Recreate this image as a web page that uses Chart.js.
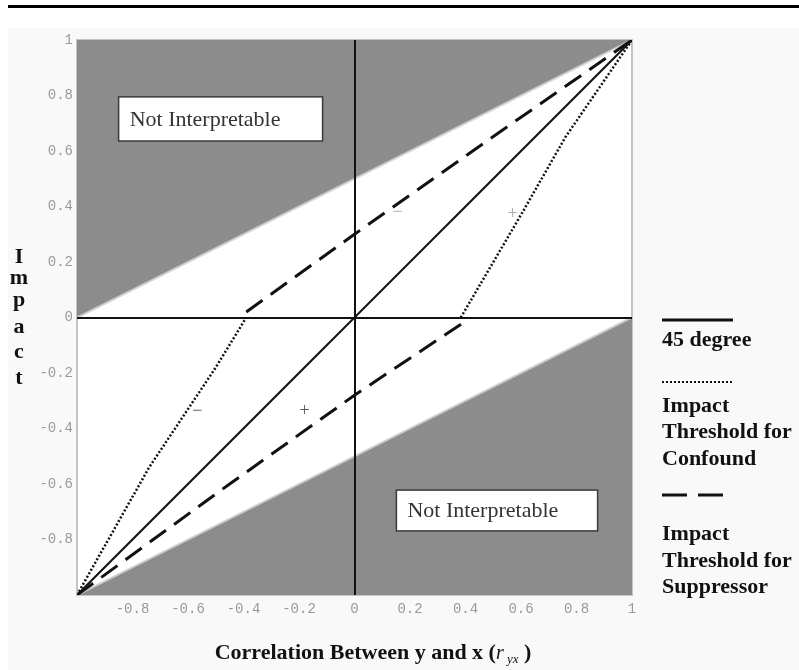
<!DOCTYPE html>
<html>
<head>
<meta charset="utf-8">
<script src="https://cdn.jsdelivr.net/npm/chart.js@4.4.0/dist/chart.umd.min.js"></script>
<style>
  body { margin: 0; background: #fff; }
  canvas { display: block; }
</style>
</head>
<body>
<canvas id="impact-chart" width="799" height="670"></canvas>
<script>
// === Data (correlation r_yx vs impact) ===
const diagX = [-1, 1];
const diagY = [-1, 1];

// Impact threshold for confound (dotted), two branches
const confoundLowX = [-1, -0.74, -0.5, -0.39];
const confoundLowY = [-1, -0.54, -0.18, 0];
const confoundHighX = [0.383, 0.6, 0.76, 1];
const confoundHighY = [0, 0.37, 0.65, 1];

// Impact threshold for suppressor (dashed), two branches
const suppressHighX = [-0.39, 0, 0.49, 1];
const suppressHighY = [0.02, 0.3, 0.645, 1];
const suppressLowX = [-1, -0.45, 0, 0.39];
const suppressLowY = [-1, -0.6, -0.28, -0.02];

// Boundaries of the "not interpretable" regions
const upperBoundX = [-1, 1];
const upperBoundY = [0, 1];
const lowerBoundX = [-1, 1];
const lowerBoundY = [-1, 0];

// Ticks
const xTickValues = [-0.8, -0.6, -0.4, -0.2, 0, 0.2, 0.4, 0.6, 0.8, 1];
const xTickLabels = ['-0.8', '-0.6', '-0.4', '-0.2', '0', '0.2', '0.4', '0.6', '0.8', '1'];
const yTickValues = [-0.8, -0.6, -0.4, -0.2, 0, 0.2, 0.4, 0.6, 0.8, 1];
const yTickLabels = ['-0.8', '-0.6', '-0.4', '-0.2', '0', '0.2', '0.4', '0.6', '0.8', '1'];

// Sign markers written on the plot
const signText = ['\u2212', '+', '\u2212', '+'];
const signX = [-0.566, -0.18, 0.155, 0.57];
const signY = [-0.337, -0.337, 0.38, 0.373];

const pts = (xs, ys) => xs.map((x, i) => ({ x, y: ys[i] }));

const SERIF = '"Liberation Serif", "DejaVu Serif", serif';

// drawing helpers for text / boxes / legend
const paperPlugin = {
    id: 'paper',
    beforeDraw(chart) {
        const { ctx, width, height, chartArea: a } = chart;
        ctx.save();
        ctx.fillStyle = '#ffffff';
        ctx.fillRect(0, 0, width, height);
        ctx.fillStyle = '#f9f9f9';
        ctx.fillRect(8, 28, width - 8, height - 28);
        ctx.fillStyle = '#ffffff';
        ctx.fillRect(a.left, a.top, a.right - a.left, a.bottom - a.top);
        ctx.strokeStyle = '#c4c4c4';
        ctx.lineWidth = 2;
        ctx.strokeRect(a.left, a.top, a.right - a.left, a.bottom - a.top);
        // rule across the top of the page
        ctx.fillStyle = '#000';
        ctx.fillRect(8, 5, width - 8, 3);
        ctx.restore();
    },
    afterDraw(chart) {
        const { ctx, scales: { x, y } } = chart;
        ctx.save();

        // "Not Interpretable" boxes
        const boxes = [
            { x0: -0.85, x1: -0.115, y0: 0.795, y1: 0.636 },
            { x0: 0.151, x1: 0.876, y0: -0.622, y1: -0.769 }
        ];
        boxes.forEach(b => {
            const l = x.getPixelForValue(b.x0), r = x.getPixelForValue(b.x1);
            const t = y.getPixelForValue(b.y0), btm = y.getPixelForValue(b.y1);
            ctx.fillStyle = '#ffffff';
            ctx.fillRect(l, t, r - l, btm - t);
            ctx.strokeStyle = '#3a3a3a';
            ctx.lineWidth = 1.5;
            ctx.strokeRect(l, t, r - l, btm - t);
            ctx.fillStyle = '#333';
            ctx.font = '22px ' + SERIF;
            ctx.textAlign = 'left';
            ctx.textBaseline = 'middle';
            ctx.fillText('Not Interpretable', l + 11, (t + btm) / 2 + 1);
        });

        // sign markers
        ctx.font = '18px ' + SERIF;
        ctx.textAlign = 'center';
        ctx.textBaseline = 'middle';
        signText.forEach((s, i) => {
            ctx.fillStyle = signY[i] < 0 ? '#555' : '#aaa';
            ctx.fillText(s, x.getPixelForValue(signX[i]), y.getPixelForValue(signY[i]));
        });

        // y axis title, letters stacked
        ctx.fillStyle = '#111';
        ctx.font = 'bold 22px ' + SERIF;
        ctx.textBaseline = 'alphabetic';
        const letters = ['I', 'm', 'p', 'a', 'c', 't'];
        const baselines = [263, 284, 306, 333, 358, 384];
        letters.forEach((c, i) => ctx.fillText(c, 19, baselines[i]));

        // x axis title with subscript
        const parts = [
            { t: 'Correlation Between y and x (', f: 'bold 22px ' + SERIF, dy: 0 },
            { t: 'r', f: 'italic 20px ' + SERIF, dy: 0 },
            { t: ' yx', f: 'italic 13px ' + SERIF, dy: 4 },
            { t: ' )', f: 'bold 22px ' + SERIF, dy: 0 }
        ];
        let total = 0;
        parts.forEach(p => { ctx.font = p.f; p.w = ctx.measureText(p.t).width; total += p.w; });
        let cx = 373 - total / 2;
        ctx.textAlign = 'left';
        parts.forEach(p => {
            ctx.font = p.f;
            ctx.fillText(p.t, cx, 659 + p.dy);
            cx += p.w;
        });

        // legend at the right
        const lx0 = 662, lx1 = 733;
        ctx.strokeStyle = '#111';
        ctx.lineWidth = 3;
        ctx.setLineDash([]);
        ctx.beginPath(); ctx.moveTo(lx0, 320); ctx.lineTo(lx1, 320); ctx.stroke();
        ctx.lineWidth = 2;
        ctx.setLineDash([2, 2]);
        ctx.beginPath(); ctx.moveTo(lx0, 382); ctx.lineTo(lx1, 382); ctx.stroke();
        ctx.lineWidth = 3;
        ctx.setLineDash([25, 11]);
        ctx.beginPath(); ctx.moveTo(lx0, 495); ctx.lineTo(725, 495); ctx.stroke();
        ctx.setLineDash([]);

        ctx.fillStyle = '#111';
        ctx.font = 'bold 22px ' + SERIF;
        const legendLines = [
            ['45 degree', 346],
            ['Impact', 412], ['Threshold for', 438], ['Confound', 465],
            ['Impact', 540], ['Threshold for', 567], ['Suppressor', 593]
        ];
        legendLines.forEach(([t, by]) => ctx.fillText(t, lx0, by));

        ctx.restore();
    }
};

const tickFont = { family: '"Liberation Mono", "DejaVu Sans Mono", monospace', size: 14 };
const zeroGrid = {
    z: 1,
    drawTicks: false,
    lineWidth: 2,
    color: (c) => (c.tick && c.tick.value === 0 ? '#111' : 'rgba(0,0,0,0)')
};

const ctx = document.getElementById('impact-chart');
new Chart(ctx, {
    type: 'line',
    data: {
        datasets: [
            {
                label: '45 degree',
                data: pts(diagX, diagY),
                borderColor: '#111',
                borderWidth: 2,
                pointRadius: 0,
                fill: false
            },
            {
                label: 'Impact Threshold for Confound',
                data: pts(confoundLowX, confoundLowY),
                borderColor: '#111',
                borderWidth: 2.5,
                borderDash: [2, 2],
                pointRadius: 0,
                fill: false
            },
            {
                label: 'Impact Threshold for Confound (upper)',
                data: pts(confoundHighX, confoundHighY),
                borderColor: '#111',
                borderWidth: 2.5,
                borderDash: [2, 2],
                pointRadius: 0,
                fill: false
            },
            {
                label: 'Impact Threshold for Suppressor',
                data: pts(suppressLowX, suppressLowY),
                borderColor: '#111',
                borderWidth: 3,
                borderDash: [20, 10],
                pointRadius: 0,
                fill: false
            },
            {
                label: 'Impact Threshold for Suppressor (upper)',
                data: pts(suppressHighX, suppressHighY),
                borderColor: '#111',
                borderWidth: 3,
                borderDash: [20, 10],
                pointRadius: 0,
                fill: false
            },
            {
                label: 'Not interpretable (upper)',
                data: pts(upperBoundX, upperBoundY),
                borderColor: '#cfcfcf',
                borderWidth: 2,
                backgroundColor: '#8c8c8c',
                pointRadius: 0,
                fill: 'end',
                order: 10
            },
            {
                label: 'Not interpretable (lower)',
                data: pts(lowerBoundX, lowerBoundY),
                borderColor: '#cfcfcf',
                borderWidth: 2,
                backgroundColor: '#8c8c8c',
                pointRadius: 0,
                fill: 'start',
                order: 10
            }
        ]
    },
    options: {
        responsive: false,
        animation: false,
        devicePixelRatio: 1,
        layout: { padding: { top: 40, right: 167, left: 0, bottom: 0 } },
        plugins: {
            legend: { display: false },
            tooltip: { enabled: false }
        },
        scales: {
            x: {
                type: 'linear',
                min: -1,
                max: 1,
                afterBuildTicks: (s) => { s.ticks = xTickValues.map(v => ({ value: v })); },
                afterFit: (s) => { s.height = 75; },
                ticks: {
                    callback: (v, i) => xTickLabels[i],
                    font: tickFont,
                    color: '#9a9a9a',
                    padding: 6,
                    maxRotation: 0,
                    autoSkip: false
                },
                grid: zeroGrid,
                border: { display: false }
            },
            y: {
                type: 'linear',
                min: -1,
                max: 1,
                afterBuildTicks: (s) => { s.ticks = yTickValues.map(v => ({ value: v })); },
                afterFit: (s) => { s.width = 77; },
                ticks: {
                    callback: (v, i) => yTickLabels[i],
                    font: tickFont,
                    color: '#9a9a9a',
                    padding: 4,
                    autoSkip: false
                },
                grid: zeroGrid,
                border: { display: false }
            }
        }
    },
    plugins: [paperPlugin]
});
</script>
</body>
</html>
